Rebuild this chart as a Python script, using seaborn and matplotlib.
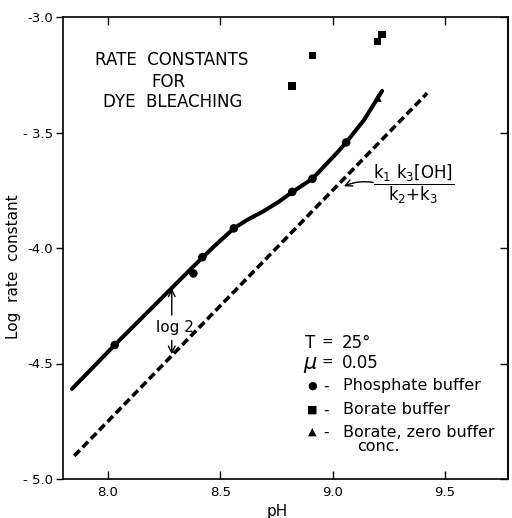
import matplotlib
matplotlib.use("Agg")
import matplotlib.pyplot as plt
import seaborn as sns

# smooth fitted curve through the points
curve_ph = [7.84, 8.03, 8.20, 8.38, 8.47, 8.56, 8.62, 8.69, 8.76, 8.82, 8.91, 9.02, 9.06, 9.14, 9.22]
curve_log_k = [-4.61, -4.42, -4.255, -4.08, -3.995, -3.915, -3.878, -3.842, -3.80,
               -3.758, -3.70, -3.587, -3.543, -3.445, -3.32]

# limiting line k1 k3 [OH] / (k2 + k3)
limit_ph = [7.85, 9.42]
limit_log_k = [-4.90, -3.33]

# measured rate constants
phosphate_ph = [8.03, 8.38, 8.42, 8.56, 8.82, 8.91, 9.06]
phosphate_log_k = [-4.42, -4.11, -4.04, -3.915, -3.757, -3.70, -3.543]
borate_ph = [8.82, 8.91, 9.20, 9.22]
borate_log_k = [-3.30, -3.167, -3.106, -3.076]
zero_buffer_ph = [9.20]
zero_buffer_log_k = [-3.35]

x_ticks = [8.0, 8.5, 9.0, 9.5]
x_tick_labels = ["8.0", "8.5", "9.0", "9.5"]
y_ticks = [-5.0, -4.5, -4.0, -3.5, -3.0]
y_tick_labels = ["- 5.0", "-4.5", "-4.0", "- 3.5", "-3.0"]

sns.set_theme(style="ticks")
plt.rcParams["font.family"] = ["DejaVu Sans"]
plt.rcParams["mathtext.fontset"] = "dejavusans"
for key in ["text.color", "axes.labelcolor", "xtick.color", "ytick.color", "axes.edgecolor"]:
    plt.rcParams[key] = "black"

fig = plt.figure(figsize=(5.12, 5.18), dpi=100)
ax = fig.add_axes([63 / 512, 1 - 479 / 518, 445 / 512, 462 / 518])

sns.lineplot(x=curve_ph, y=curve_log_k, sort=False, color="black", lw=2.9, ax=ax)
sns.lineplot(x=limit_ph, y=limit_log_k, sort=False, color="black", lw=2.6,
             dashes=False, ax=ax).lines[-1].set_dashes((2.2, 1.1))
sns.scatterplot(x=phosphate_ph, y=phosphate_log_k, marker="o", color="black",
                s=38, edgecolor="none", ax=ax)
sns.scatterplot(x=borate_ph, y=borate_log_k, marker="s", color="black",
                s=30, edgecolor="none", ax=ax)
sns.scatterplot(x=zero_buffer_ph, y=zero_buffer_log_k, marker="^", color="black",
                s=34, edgecolor="none", ax=ax)

ax.set_xlim(7.8, 9.78)
ax.set_ylim(-5.0, -3.0)
ax.set_xticks(x_ticks)
ax.set_xticklabels(x_tick_labels, fontsize=9.5)
ax.set_yticks(y_ticks)
ax.set_yticklabels(y_tick_labels, fontsize=9.5)
ax.tick_params(axis="x", direction="in", top=True, bottom=True, length=6, width=1, pad=5)
ax.tick_params(axis="y", direction="out", left=True, right=False, length=5, width=1, pad=2)
right = ax.secondary_yaxis("right")
right.set_yticks(y_ticks)
right.tick_params(axis="y", direction="in", length=6, width=1, labelright=False)
for sp in list(ax.spines.values()) + list(right.spines.values()):
    sp.set_linewidth(1.2)
    sp.set_color("black")

ax.set_xlabel("pH", fontsize=11)
ax.set_ylabel("Log  rate  constant", fontsize=11)
ax.xaxis.set_label_coords(0.482, -0.054)
ax.yaxis.set_label_coords(-0.095, 0.46)

# title block
ax.text(8.285, -3.186, "RATE  CONSTANTS", ha="center", va="center", fontsize=12)
ax.text(8.27, -3.28, "FOR", ha="center", va="center", fontsize=12)
ax.text(8.29, -3.368, "DYE  BLEACHING", ha="center", va="center", fontsize=12)

# log 2 spacing between curve and limiting line
ax.text(8.30, -4.345, "log 2", ha="center", va="center", fontsize=11)
ax.annotate("", xy=(8.284, -4.175), xytext=(8.284, -4.29),
            arrowprops=dict(arrowstyle="->", color="black", lw=1, shrinkA=0, shrinkB=0))
ax.annotate("", xy=(8.284, -4.46), xytext=(8.284, -4.40),
            arrowprops=dict(arrowstyle="->", color="black", lw=1, shrinkA=0, shrinkB=0))

# limiting expression
ax.text(9.36, -3.725, r"$\dfrac{\mathrm{k_1\ k_3[OH]}}{\mathrm{k_2{+}k_3}}$",
        ha="center", va="center", fontsize=12)
ax.annotate("", xy=(9.05, -3.733), xytext=(9.18, -3.716),
            arrowprops=dict(arrowstyle="->", color="black", lw=1, shrinkA=0, shrinkB=0,
                            connectionstyle="arc3,rad=0.15"))

# key
ax.text(8.876, -4.411, "T", ha="left", va="center", fontsize=12)
ax.text(8.978, -4.411, "=", ha="center", va="center", fontsize=10)
ax.text(9.04, -4.411, "25°", ha="left", va="center", fontsize=12)
ax.text(8.87, -4.498, "μ", ha="left", va="center", fontsize=15, style="italic")
ax.text(8.978, -4.498, "=", ha="center", va="center", fontsize=10)
ax.text(9.04, -4.498, "0.05", ha="left", va="center", fontsize=12)
key_rows = [("●", "Phosphate buffer", -4.597),
            ("■", "Borate buffer", -4.701),
            ("▲", "Borate, zero buffer", -4.797)]
for sym, label, yy in key_rows:
    ax.text(8.907, yy, sym, ha="center", va="center", fontsize=8)
    ax.text(8.969, yy, "-", ha="center", va="center", fontsize=11)
    ax.text(9.044, yy, label, ha="left", va="center", fontsize=11.5)
ax.text(9.107, -4.861, "conc.", ha="left", va="center", fontsize=11.5)

fig.savefig("out.png", dpi=100)
